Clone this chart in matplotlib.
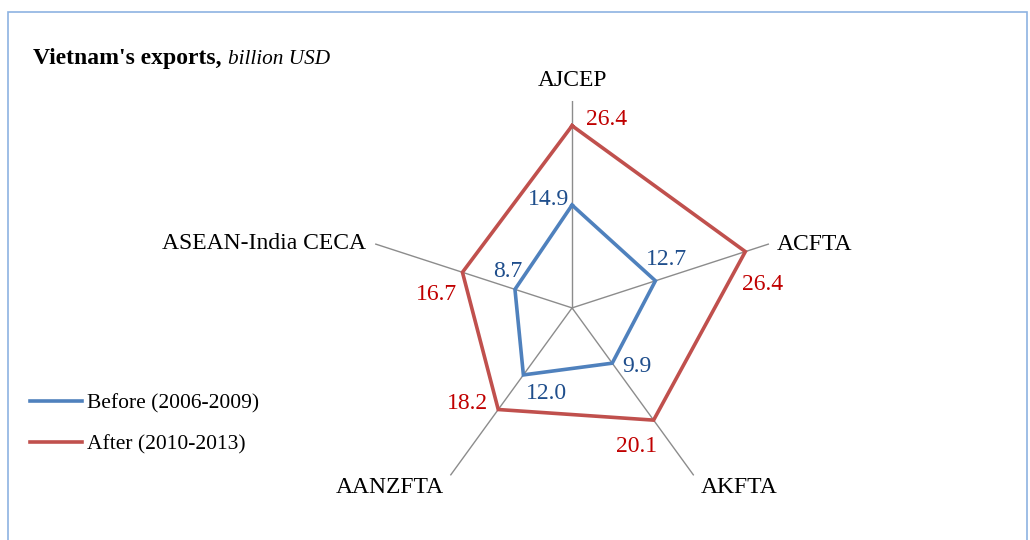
import matplotlib
matplotlib.use("Agg")
import matplotlib.pyplot as plt
from matplotlib.patches import Rectangle
import numpy as np

plt.rcParams['font.family'] = ['Liberation Serif', 'DejaVu Serif']

categories = ['AJCEP', 'ACFTA', 'AKFTA', 'AANZFTA', 'ASEAN-India CECA']
before = [14.9, 12.7, 9.9, 12.0, 8.7]
after = [26.4, 26.4, 20.1, 18.2, 16.7]
series_names = ['Before (2006-2009)', 'After (2010-2013)']

blue = '#4F81BD'
red = '#C0504D'
blue_txt = '#1F4E8C'
red_txt = '#C00000'

fig = plt.figure(figsize=(10.3, 5.4), dpi=100)
fig.patches.append(Rectangle((8/1030, -0.1), 1019/1030, 1.1 - 12/540,
                             transform=fig.transFigure, fill=False,
                             edgecolor='#8DB3E2', lw=1.2))

ax = fig.add_axes([0.3544, 0.0463, 0.402, 0.767], projection='polar')
ax.set_theta_offset(np.pi/2)
ax.set_theta_direction(-1)
ax.set_ylim(0, 30)
ax.grid(False)
ax.spines['polar'].set_visible(False)
ax.set_xticks([])
ax.set_yticks([])
ax.patch.set_alpha(0)

n = len(categories)
theta = np.arange(n) * 2*np.pi/n

for t in theta:
    ax.plot([t, t], [0, 30], color='#8C8C8C', lw=1.0, zorder=1)

tc = np.append(theta, theta[0])
l1, = ax.plot(tc, before + before[:1], color=blue, lw=2.6, zorder=3,
              solid_joinstyle='miter')
l2, = ax.plot(tc, after + after[:1], color=red, lw=2.6, zorder=3,
              solid_joinstyle='miter')

fs = 17
# category labels: (offset px, ha, va)
cat_pos = [((0, 20), 'center', 'center'),
           ((8, -1), 'left', 'center'),
           ((7, -12), 'left', 'center'),
           ((-6, -12), 'right', 'center'),
           ((-9, 0), 'right', 'center')]
for t, c, (off, ha, va) in zip(theta, categories, cat_pos):
    ax.annotate(c, (t, 30), xytext=off, textcoords='offset pixels',
                ha=ha, va=va, fontsize=fs, color='black')

before_off = [((-3, 6), 'right', 'center'),
              ((11, 21), 'center', 'center'),
              ((10, -3), 'left', 'center'),
              ((23, -19), 'center', 'center'),
              ((-7, 18), 'center', 'center')]
after_off = [((14, 6), 'left', 'center'),
             ((17, -33), 'center', 'center'),
             ((-17, -26), 'center', 'center'),
             ((-10, 6), 'right', 'center'),
             ((-26, -22), 'center', 'center')]
for t, v, (off, ha, va) in zip(theta, before, before_off):
    ax.annotate(f'{v:.1f}', (t, v), xytext=off, textcoords='offset pixels',
                ha=ha, va=va, fontsize=fs, color=blue_txt)
for t, v, (off, ha, va) in zip(theta, after, after_off):
    ax.annotate(f'{v:.1f}', (t, v), xytext=off, textcoords='offset pixels',
                ha=ha, va=va, fontsize=fs, color=red_txt)

# title: bold part then italic part
t1 = fig.text(33/1030, 1 - 64/540, "Vietnam's exports,", fontsize=17,
              fontweight='bold', ha='left', va='baseline')
r = fig.canvas.get_renderer()
bb = t1.get_window_extent(renderer=r)
fig.text(bb.x1/1030 + 6/1030, 1 - 64/540, 'billion USD', fontsize=15.3,
         style='italic', ha='left', va='baseline')

fig.legend([l1, l2], series_names, loc='center left',
           bbox_to_anchor=(30/1030, 1 - 424/540), frameon=False,
           fontsize=15.5, handlelength=2.4, handletextpad=0.25,
           borderpad=0, borderaxespad=0, labelspacing=1.0)

fig.savefig('out.png', dpi=100)
